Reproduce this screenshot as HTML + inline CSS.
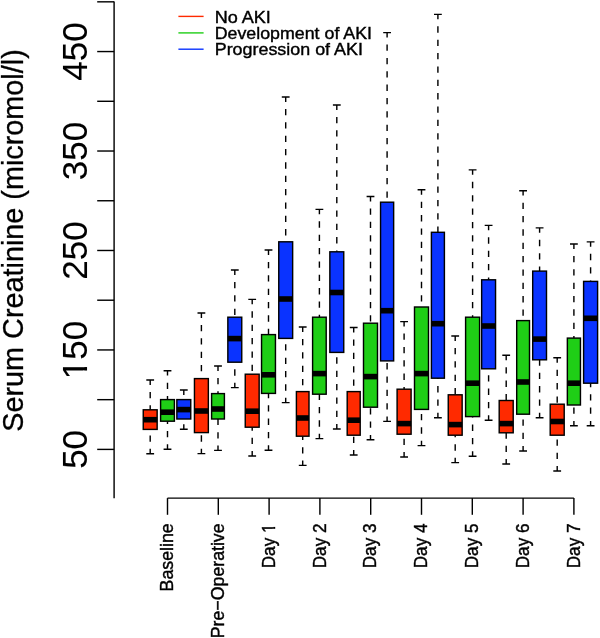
<!DOCTYPE html>
<html><head><meta charset="utf-8"><title>Serum Creatinine box plot</title>
<style>
html,body{margin:0;padding:0;background:#fff}
svg{display:block;will-change:transform}
text{stroke:#000;stroke-width:0.4px;font-family:"Liberation Sans",sans-serif;fill:#000}
</style></head><body>
<svg width="600" height="638" viewBox="0 0 600 638">
<rect width="600" height="638" fill="#fff"/>

<g stroke="#000" stroke-width="1.42" fill="none" stroke-linecap="butt">
<path d="M114.1 1.6V498.2"/>
<path d="M97.2 449.40H114.1"/>
<path d="M97.2 399.67H114.1"/>
<path d="M97.2 349.94H114.1"/>
<path d="M97.2 300.21H114.1"/>
<path d="M97.2 250.48H114.1"/>
<path d="M97.2 200.75H114.1"/>
<path d="M97.2 151.02H114.1"/>
<path d="M97.2 101.29H114.1"/>
<path d="M97.2 51.56H114.1"/>
<path d="M97.2 1.83H114.1"/>
<path d="M167.50 498.1H573.90"/>
<path d="M167.50 498.1V514.8"/>
<path d="M218.30 498.1V514.8"/>
<path d="M269.10 498.1V514.8"/>
<path d="M319.90 498.1V514.8"/>
<path d="M370.70 498.1V514.8"/>
<path d="M421.50 498.1V514.8"/>
<path d="M472.30 498.1V514.8"/>
<path d="M523.10 498.1V514.8"/>
<path d="M573.90 498.1V514.8"/>
</g>
<g transform="translate(87,449.40) rotate(-90)"><text text-anchor="middle" font-size="35" style="stroke-width:0.1px">50</text>
</g>
<g transform="translate(87,349.94) rotate(-90)"><text text-anchor="middle" font-size="35" style="stroke-width:0.1px">150</text>
<rect x="-27.49" y="-3.71" width="6.89" height="5.21" fill="#fff"/>
<rect x="-17.10" y="-3.71" width="6.73" height="5.21" fill="#fff"/>
</g>
<g transform="translate(87,250.48) rotate(-90)"><text text-anchor="middle" font-size="35" style="stroke-width:0.1px">250</text>
</g>
<g transform="translate(87,151.02) rotate(-90)"><text text-anchor="middle" font-size="35" style="stroke-width:0.1px">350</text>
</g>
<g transform="translate(87,51.56) rotate(-90)"><text text-anchor="middle" font-size="35" style="stroke-width:0.1px">450</text>
</g>
<text transform="translate(23.2,240.5) rotate(-90)" text-anchor="middle" font-size="28.8" style="stroke-width:0.3px">Serum Creatinine (micromol/l)</text>
<text transform="translate(173.20,523.4) rotate(-90) scale(1,1.03)" text-anchor="end" font-size="17.75">Baseline</text>
<text transform="translate(224.00,523.4) rotate(-90) scale(1,1.03)" text-anchor="end" font-size="17.75">Pre−Operative</text>
<g transform="translate(274.80,523.4) rotate(-90) scale(1,1.063)"><text text-anchor="end" font-size="17.2">Day 1</text>
<rect x="-8.73" y="-2.18" width="3.29" height="3.48" fill="#fff"/>
<rect x="-3.52" y="-2.18" width="3.39" height="3.48" fill="#fff"/>
</g>
<g transform="translate(325.60,523.4) rotate(-90) scale(1,1.063)"><text text-anchor="end" font-size="17.2">Day 2</text>
</g>
<g transform="translate(376.40,523.4) rotate(-90) scale(1,1.063)"><text text-anchor="end" font-size="17.2">Day 3</text>
</g>
<g transform="translate(427.20,523.4) rotate(-90) scale(1,1.063)"><text text-anchor="end" font-size="17.2">Day 4</text>
</g>
<g transform="translate(478.00,523.4) rotate(-90) scale(1,1.063)"><text text-anchor="end" font-size="17.2">Day 5</text>
</g>
<g transform="translate(528.80,523.4) rotate(-90) scale(1,1.063)"><text text-anchor="end" font-size="17.2">Day 6</text>
</g>
<g transform="translate(579.60,523.4) rotate(-90) scale(1,1.063)"><text text-anchor="end" font-size="17.2">Day 7</text>
</g>
<path d="M178.4 16.4H203.6" stroke="#FF2A00" stroke-width="1.4"/>
<text transform="translate(214.7,22.7) scale(1.05,1)" font-size="17.2">No AKI</text>
<path d="M178.4 32.9H203.6" stroke="#1FCE16" stroke-width="1.4"/>
<text transform="translate(214.7,39.1) scale(1.035,1)" font-size="17.2">Development of AKI</text>
<path d="M178.4 49.2H203.6" stroke="#0A33FF" stroke-width="1.4"/>
<text transform="translate(214.7,55.0) scale(1.041,1)" font-size="17.2">Progression of AKI</text>
<g stroke="#000" stroke-width="1.42">
<path d="M150.20 380V409.8" stroke-dasharray="6.3 7.05" stroke-dashoffset="1.4" fill="none"/>
<path d="M150.20 453.7V429.4" stroke-dasharray="6.3 7.05" stroke-dashoffset="1.4" fill="none"/>
<path d="M146.30 380H154.10M146.30 453.7H154.10" fill="none"/>
<rect x="143.25" y="409.8" width="13.9" height="19.60" fill="#FF2A00"/>
<path d="M143.25 419.7H157.15" stroke-width="5.6" fill="none"/>
</g>
<g stroke="#000" stroke-width="1.42">
<path d="M167.50 370.7V399.6" stroke-dasharray="6.3 7.05" stroke-dashoffset="1.4" fill="none"/>
<path d="M167.50 449.2V421.2" stroke-dasharray="6.3 7.05" stroke-dashoffset="1.4" fill="none"/>
<path d="M163.60 370.7H171.40M163.60 449.2H171.40" fill="none"/>
<rect x="160.60" y="399.6" width="13.8" height="21.60" fill="#1FCE16"/>
<path d="M160.60 412.2H174.40" stroke-width="5.6" fill="none"/>
</g>
<g stroke="#000" stroke-width="1.42">
<path d="M183.80 390V399.6" stroke-dasharray="6.3 7.05" stroke-dashoffset="1.4" fill="none"/>
<path d="M183.80 429.2V419" stroke-dasharray="6.3 7.05" stroke-dashoffset="1.4" fill="none"/>
<path d="M179.90 390H187.70M179.90 429.2H187.70" fill="none"/>
<rect x="176.85" y="399.6" width="13.9" height="19.40" fill="#0A33FF"/>
<path d="M176.85 409.6H190.75" stroke-width="5.6" fill="none"/>
</g>
<g stroke="#000" stroke-width="1.42">
<path d="M201.40 313V378.6" stroke-dasharray="6.3 7.05" stroke-dashoffset="1.4" fill="none"/>
<path d="M201.40 453.6V432.6" stroke-dasharray="6.3 7.05" stroke-dashoffset="1.4" fill="none"/>
<path d="M197.50 313H205.30M197.50 453.6H205.30" fill="none"/>
<rect x="194.45" y="378.6" width="13.9" height="54.00" fill="#FF2A00"/>
<path d="M194.45 411H208.35" stroke-width="5.6" fill="none"/>
</g>
<g stroke="#000" stroke-width="1.42">
<path d="M218.00 366V393.6" stroke-dasharray="6.3 7.05" stroke-dashoffset="1.4" fill="none"/>
<path d="M218.00 450.4V419" stroke-dasharray="6.3 7.05" stroke-dashoffset="1.4" fill="none"/>
<path d="M214.10 366H221.90M214.10 450.4H221.90" fill="none"/>
<rect x="211.60" y="393.6" width="12.8" height="25.40" fill="#1FCE16"/>
<path d="M211.60 409H224.40" stroke-width="5.6" fill="none"/>
</g>
<g stroke="#000" stroke-width="1.42">
<path d="M234.80 270V317.2" stroke-dasharray="6.3 7.05" stroke-dashoffset="1.4" fill="none"/>
<path d="M234.80 387.6V362.2" stroke-dasharray="6.3 7.05" stroke-dashoffset="1.4" fill="none"/>
<path d="M230.90 270H238.70M230.90 387.6H238.70" fill="none"/>
<rect x="227.85" y="317.2" width="13.9" height="45.00" fill="#0A33FF"/>
<path d="M227.85 338.6H241.75" stroke-width="5.6" fill="none"/>
</g>
<g stroke="#000" stroke-width="1.42">
<path d="M252.20 299.4V374.2" stroke-dasharray="6.3 7.05" stroke-dashoffset="1.4" fill="none"/>
<path d="M252.20 456V427.2" stroke-dasharray="6.3 7.05" stroke-dashoffset="1.4" fill="none"/>
<path d="M248.30 299.4H256.10M248.30 456H256.10" fill="none"/>
<rect x="245.25" y="374.2" width="13.9" height="53.00" fill="#FF2A00"/>
<path d="M245.25 411.2H259.15" stroke-width="5.6" fill="none"/>
</g>
<g stroke="#000" stroke-width="1.42">
<path d="M268.50 250V334.6" stroke-dasharray="6.3 7.05" stroke-dashoffset="1.4" fill="none"/>
<path d="M268.50 450.2V393.4" stroke-dasharray="6.3 7.05" stroke-dashoffset="1.4" fill="none"/>
<path d="M264.60 250H272.40M264.60 450.2H272.40" fill="none"/>
<rect x="261.55" y="334.6" width="13.9" height="58.80" fill="#1FCE16"/>
<path d="M261.55 374.8H275.45" stroke-width="5.6" fill="none"/>
</g>
<g stroke="#000" stroke-width="1.42">
<path d="M285.70 97V241.8" stroke-dasharray="6.3 7.05" stroke-dashoffset="1.4" fill="none"/>
<path d="M285.70 402.6V338.4" stroke-dasharray="6.3 7.05" stroke-dashoffset="1.4" fill="none"/>
<path d="M281.80 97H289.60M281.80 402.6H289.60" fill="none"/>
<rect x="278.75" y="241.8" width="13.9" height="96.60" fill="#0A33FF"/>
<path d="M278.75 299H292.65" stroke-width="5.6" fill="none"/>
</g>
<g stroke="#000" stroke-width="1.42">
<path d="M302.70 327V391.6" stroke-dasharray="6.3 7.05" stroke-dashoffset="1.4" fill="none"/>
<path d="M302.70 465.4V436.2" stroke-dasharray="6.3 7.05" stroke-dashoffset="1.4" fill="none"/>
<path d="M298.80 327H306.60M298.80 465.4H306.60" fill="none"/>
<rect x="296.40" y="391.6" width="12.6" height="44.60" fill="#FF2A00"/>
<path d="M296.40 418H309.00" stroke-width="5.6" fill="none"/>
</g>
<g stroke="#000" stroke-width="1.42">
<path d="M319.40 209.4V317.2" stroke-dasharray="6.3 7.05" stroke-dashoffset="1.4" fill="none"/>
<path d="M319.40 438.6V394.2" stroke-dasharray="6.3 7.05" stroke-dashoffset="1.4" fill="none"/>
<path d="M315.50 209.4H323.30M315.50 438.6H323.30" fill="none"/>
<rect x="312.60" y="317.2" width="13.6" height="77.00" fill="#1FCE16"/>
<path d="M312.60 373.6H326.20" stroke-width="5.6" fill="none"/>
</g>
<g stroke="#000" stroke-width="1.42">
<path d="M336.80 105V251.8" stroke-dasharray="6.3 7.05" stroke-dashoffset="1.4" fill="none"/>
<path d="M336.80 429V352.4" stroke-dasharray="6.3 7.05" stroke-dashoffset="1.4" fill="none"/>
<path d="M332.90 105H340.70M332.90 429H340.70" fill="none"/>
<rect x="329.85" y="251.8" width="13.9" height="100.60" fill="#0A33FF"/>
<path d="M329.85 292.5H343.75" stroke-width="5.6" fill="none"/>
</g>
<g stroke="#000" stroke-width="1.42">
<path d="M353.70 327.5V391.6" stroke-dasharray="6.3 7.05" stroke-dashoffset="1.4" fill="none"/>
<path d="M353.70 455V435.2" stroke-dasharray="6.3 7.05" stroke-dashoffset="1.4" fill="none"/>
<path d="M349.80 327.5H357.60M349.80 455H357.60" fill="none"/>
<rect x="347.20" y="391.6" width="13.0" height="43.60" fill="#FF2A00"/>
<path d="M347.20 420.2H360.20" stroke-width="5.6" fill="none"/>
</g>
<g stroke="#000" stroke-width="1.42">
<path d="M370.50 196.5V323.2" stroke-dasharray="6.3 7.05" stroke-dashoffset="1.4" fill="none"/>
<path d="M370.50 439.8V407.2" stroke-dasharray="6.3 7.05" stroke-dashoffset="1.4" fill="none"/>
<path d="M366.60 196.5H374.40M366.60 439.8H374.40" fill="none"/>
<rect x="363.50" y="323.2" width="14.0" height="84.00" fill="#1FCE16"/>
<path d="M363.50 376.6H377.50" stroke-width="5.6" fill="none"/>
</g>
<g stroke="#000" stroke-width="1.42">
<path d="M387.10 32.6V202.2" stroke-dasharray="6.3 7.05" stroke-dashoffset="1.4" fill="none"/>
<path d="M387.10 421.4V360.9" stroke-dasharray="6.3 7.05" stroke-dashoffset="1.4" fill="none"/>
<path d="M383.20 32.6H391.00M383.20 421.4H391.00" fill="none"/>
<rect x="380.55" y="202.2" width="13.1" height="158.70" fill="#0A33FF"/>
<path d="M380.55 310.7H393.65" stroke-width="5.6" fill="none"/>
</g>
<g stroke="#000" stroke-width="1.42">
<path d="M404.10 321.6V389.2" stroke-dasharray="6.3 7.05" stroke-dashoffset="1.4" fill="none"/>
<path d="M404.10 457V434.2" stroke-dasharray="6.3 7.05" stroke-dashoffset="1.4" fill="none"/>
<path d="M400.20 321.6H408.00M400.20 457H408.00" fill="none"/>
<rect x="397.10" y="389.2" width="14.0" height="45.00" fill="#FF2A00"/>
<path d="M397.10 423.6H411.10" stroke-width="5.6" fill="none"/>
</g>
<g stroke="#000" stroke-width="1.42">
<path d="M421.50 189.8V307" stroke-dasharray="6.3 7.05" stroke-dashoffset="1.4" fill="none"/>
<path d="M421.50 445.6V409.4" stroke-dasharray="6.3 7.05" stroke-dashoffset="1.4" fill="none"/>
<path d="M417.60 189.8H425.40M417.60 445.6H425.40" fill="none"/>
<rect x="414.50" y="307" width="14.0" height="102.40" fill="#1FCE16"/>
<path d="M414.50 373.6H428.50" stroke-width="5.6" fill="none"/>
</g>
<g stroke="#000" stroke-width="1.42">
<path d="M437.90 14.4V232.3" stroke-dasharray="6.3 7.05" stroke-dashoffset="1.4" fill="none"/>
<path d="M437.90 417.7V378.2" stroke-dasharray="6.3 7.05" stroke-dashoffset="1.4" fill="none"/>
<path d="M434.00 14.4H441.80M434.00 417.7H441.80" fill="none"/>
<rect x="431.40" y="232.3" width="13.0" height="145.90" fill="#0A33FF"/>
<path d="M431.40 323.7H444.40" stroke-width="5.6" fill="none"/>
</g>
<g stroke="#000" stroke-width="1.42">
<path d="M455.20 336V394.8" stroke-dasharray="6.3 7.05" stroke-dashoffset="1.4" fill="none"/>
<path d="M455.20 462.6V435.2" stroke-dasharray="6.3 7.05" stroke-dashoffset="1.4" fill="none"/>
<path d="M451.30 336H459.10M451.30 462.6H459.10" fill="none"/>
<rect x="448.25" y="394.8" width="13.9" height="40.40" fill="#FF2A00"/>
<path d="M448.25 424.6H462.15" stroke-width="5.6" fill="none"/>
</g>
<g stroke="#000" stroke-width="1.42">
<path d="M472.60 169.9V317.2" stroke-dasharray="6.3 7.05" stroke-dashoffset="1.4" fill="none"/>
<path d="M472.60 456.2V416.6" stroke-dasharray="6.3 7.05" stroke-dashoffset="1.4" fill="none"/>
<path d="M468.70 169.9H476.50M468.70 456.2H476.50" fill="none"/>
<rect x="465.60" y="317.2" width="14.0" height="99.40" fill="#1FCE16"/>
<path d="M465.60 383.2H479.60" stroke-width="5.6" fill="none"/>
</g>
<g stroke="#000" stroke-width="1.42">
<path d="M488.60 225.4V279.8" stroke-dasharray="6.3 7.05" stroke-dashoffset="1.4" fill="none"/>
<path d="M488.60 420.2V368.8" stroke-dasharray="6.3 7.05" stroke-dashoffset="1.4" fill="none"/>
<path d="M484.70 225.4H492.50M484.70 420.2H492.50" fill="none"/>
<rect x="481.65" y="279.8" width="13.9" height="89.00" fill="#0A33FF"/>
<path d="M481.65 326H495.55" stroke-width="5.6" fill="none"/>
</g>
<g stroke="#000" stroke-width="1.42">
<path d="M506.20 355.3V400.5" stroke-dasharray="6.3 7.05" stroke-dashoffset="1.4" fill="none"/>
<path d="M506.20 464V432.8" stroke-dasharray="6.3 7.05" stroke-dashoffset="1.4" fill="none"/>
<path d="M502.30 355.3H510.10M502.30 464H510.10" fill="none"/>
<rect x="499.20" y="400.5" width="14.0" height="32.30" fill="#FF2A00"/>
<path d="M499.20 423.6H513.20" stroke-width="5.6" fill="none"/>
</g>
<g stroke="#000" stroke-width="1.42">
<path d="M523.10 190.7V320.6" stroke-dasharray="6.3 7.05" stroke-dashoffset="1.4" fill="none"/>
<path d="M523.10 451V414.2" stroke-dasharray="6.3 7.05" stroke-dashoffset="1.4" fill="none"/>
<path d="M519.20 190.7H527.00M519.20 451H527.00" fill="none"/>
<rect x="516.70" y="320.6" width="12.8" height="93.60" fill="#1FCE16"/>
<path d="M516.70 382H529.50" stroke-width="5.6" fill="none"/>
</g>
<g stroke="#000" stroke-width="1.42">
<path d="M539.60 227.9V271.1" stroke-dasharray="6.3 7.05" stroke-dashoffset="1.4" fill="none"/>
<path d="M539.60 417.7V359.8" stroke-dasharray="6.3 7.05" stroke-dashoffset="1.4" fill="none"/>
<path d="M535.70 227.9H543.50M535.70 417.7H543.50" fill="none"/>
<rect x="532.70" y="271.1" width="13.8" height="88.70" fill="#0A33FF"/>
<path d="M532.70 339.1H546.50" stroke-width="5.6" fill="none"/>
</g>
<g stroke="#000" stroke-width="1.42">
<path d="M557.20 357.8V404.2" stroke-dasharray="6.3 7.05" stroke-dashoffset="1.4" fill="none"/>
<path d="M557.20 471V435.2" stroke-dasharray="6.3 7.05" stroke-dashoffset="1.4" fill="none"/>
<path d="M553.30 357.8H561.10M553.30 471H561.10" fill="none"/>
<rect x="550.20" y="404.2" width="14.0" height="31.00" fill="#FF2A00"/>
<path d="M550.20 421.5H564.20" stroke-width="5.6" fill="none"/>
</g>
<g stroke="#000" stroke-width="1.42">
<path d="M573.90 244V338.1" stroke-dasharray="6.3 7.05" stroke-dashoffset="1.4" fill="none"/>
<path d="M573.90 425.8V405.0" stroke-dasharray="6.3 7.05" stroke-dashoffset="1.4" fill="none"/>
<path d="M570.00 244H577.80M570.00 425.8H577.80" fill="none"/>
<rect x="567.35" y="338.1" width="13.1" height="66.90" fill="#1FCE16"/>
<path d="M567.35 383.2H580.45" stroke-width="5.6" fill="none"/>
</g>
<g stroke="#000" stroke-width="1.42">
<path d="M590.60 241.9V281.4" stroke-dasharray="6.3 7.05" stroke-dashoffset="1.4" fill="none"/>
<path d="M590.60 425.8V383.2" stroke-dasharray="6.3 7.05" stroke-dashoffset="1.4" fill="none"/>
<path d="M586.70 241.9H594.50M586.70 425.8H594.50" fill="none"/>
<rect x="583.60" y="281.4" width="14.0" height="101.80" fill="#0A33FF"/>
<path d="M583.60 318.3H597.60" stroke-width="5.6" fill="none"/>
</g>
</svg>
</body></html>
